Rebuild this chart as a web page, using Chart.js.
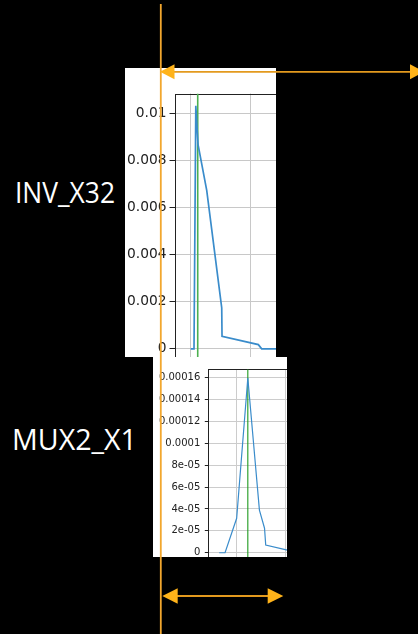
<!DOCTYPE html>
<html>
<head>
<meta charset="utf-8">
<script src="https://cdn.jsdelivr.net/npm/chart.js@4/dist/chart.umd.min.js"></script>
<style>
  html, body { margin: 0; padding: 0; background: #000; }
  body { width: 418px; height: 634px; position: relative; overflow: hidden; }
  .panel { position: absolute; background: #fff; overflow: hidden; }
  .panel canvas { position: absolute; left: 0; top: 0; }
  .lbl { position: absolute; color: #fff; font-family: "Open Sans", sans-serif; font-size: 28.5px; line-height: 1; white-space: nowrap; transform-origin: 0 0; }
  svg { position: absolute; left: 0; top: 0; }
</style>
</head>
<body>
<div class="lbl" id="lbl1" style="left:15px; top:178px;">INV_X32</div>
<div class="lbl" id="lbl2" style="left:11.5px; top:424.7px;">MUX2_X1</div>

<div class="panel" style="left:125px; top:68px; width:151px; height:289px;">
  <canvas id="c1" width="200" height="313"></canvas>
</div>
<div class="panel" style="left:153px; top:357px; width:134px; height:200px;">
  <canvas id="c2" width="180" height="225"></canvas>
</div>

<svg width="418" height="634">
  <line x1="160.8" y1="4" x2="160.8" y2="634" stroke="#F2A72E" stroke-width="1.8"/>
  <line x1="166" y1="71.8" x2="418" y2="71.8" stroke="#E39A1E" stroke-width="1.8"/>
  <polygon points="160,71.8 174.5,64.3 174.5,79.3" fill="#FFB31A"/>
  <polygon points="424,71.8 410,64.3 410,79.3" fill="#FFB31A"/>
  <line x1="168" y1="596" x2="278" y2="596" stroke="#E39A1E" stroke-width="1.8"/>
  <polygon points="162.3,596 177.7,588.2 177.7,603.8" fill="#FFB31A"/>
  <polygon points="283.3,596 267.7,588.2 267.7,603.8" fill="#FFB31A"/>
</svg>

<script>
// ---------- INV_X32 panel data ----------
const inv_x = [1.000, 1.055, 1.085, 1.122, 1.267, 1.517, 1.522, 2.127, 2.183, 3.32];
const inv_y = [0, 0, 0.01034, 0.0087, 0.00674, 0.00174, 0.00053, 0.00018, 0, 0];
const inv_marker = 1.117;
const inv_yTicks = [0, 0.002, 0.004, 0.006, 0.008, 0.01];
const inv_yLabels = ['0', '0.002', '0.004', '0.006', '0.008', '0.01'];
const inv_xGrid = [1, 2, 3];
const inv_yRange = [-0.000517, 0.01086];
const inv_xRange = [0.73, 3.238];

// ---------- MUX2_X1 panel data ----------
const mux_x = [0.645, 0.764, 1.000, 1.227, 1.463, 1.567, 1.591, 2.118, 2.158, 3.06];
const mux_y = [0, 0, 3.15e-5, 1.595e-4, 3.9e-5, 2.24e-5, 7.1e-6, 1.5e-6, 0, 0];
const mux_marker = 1.227;
const mux_yTicks = [0, 2e-5, 4e-5, 6e-5, 8e-5, 1e-4, 1.2e-4, 1.4e-4, 1.6e-4];
const mux_yLabels = ['0', '2e-05', '4e-05', '6e-05', '8e-05', '0.0001', '0.00012', '0.00014', '0.00016'];
const mux_xGrid = [1, 2, 3];
const mux_yRange = [-0.00000798, 0.0001675];
const mux_xRange = [0.423, 2.96];

// fit the side labels to the widths seen in the reference
[['lbl1', 100], ['lbl2', 125]].forEach(([id, w]) => {
  const el = document.getElementById(id);
  const r = el.getBoundingClientRect().width;
  if (r > 0) el.style.transform = 'scaleX(' + (w / r) + ')';
});

const framePlugin = {
  id: 'frame',
  beforeDatasetsDraw(chart) {
    const a = chart.chartArea, ctx = chart.ctx;
    ctx.save();
    ctx.strokeStyle = '#222';
    ctx.lineWidth = 1;
    ctx.strokeRect(Math.round(a.left) + 0.5, Math.round(a.top) + 0.5, a.right - a.left, a.bottom - a.top);
    ctx.restore();
  }
};

function makeChart(id, xs, ys, marker, yTicks, yLabels, xGrid, yRange, xRange, opt) {
  const pts = xs.map((x, i) => ({ x: x, y: ys[i] }));
  new Chart(document.getElementById(id), {
    type: 'line',
    data: {
      datasets: [
        { data: pts, borderColor: opt.blue, borderWidth: opt.lw, pointRadius: 0, tension: 0, fill: false },
        { data: [{ x: marker, y: yRange[0] }, { x: marker, y: yRange[1] }], borderColor: opt.green, borderWidth: opt.gw, pointRadius: 0, fill: false }
      ]
    },
    options: {
      responsive: false,
      animation: false,
      events: [],
      layout: { padding: { left: 0, top: opt.padTop, right: 0, bottom: 0 } },
      plugins: { legend: { display: false }, tooltip: { enabled: false } },
      scales: {
        x: {
          type: 'linear', min: xRange[0], max: xRange[1],
          afterBuildTicks: s => { s.ticks = xGrid.map(v => ({ value: v })); },
          afterFit: s => { s.height = opt.xH; },
          ticks: { display: false },
          grid: { color: opt.grid, lineWidth: 1, drawTicks: false },
          border: { display: false }
        },
        y: {
          type: 'linear', min: yRange[0], max: yRange[1],
          afterBuildTicks: s => { s.ticks = yTicks.map(v => ({ value: v })); },
          afterFit: s => { s.width = opt.yW; },
          ticks: {
            color: '#222', padding: opt.tickPad,
            font: { family: "'DejaVu Sans', sans-serif", size: opt.fs },
            callback: (v, i) => yLabels[i]
          },
          grid: { color: opt.grid, lineWidth: 1, drawTicks: true, tickLength: opt.tickLen, tickColor: '#222' },
          border: { display: false }
        }
      }
    },
    plugins: [framePlugin]
  });
}

makeChart('c1', inv_x, inv_y, inv_marker, inv_yTicks, inv_yLabels, inv_xGrid, inv_yRange, inv_xRange,
  { blue: '#3a8ccb', green: '#4cb050', lw: 1.7, gw: 1.6, padTop: 25.5, xH: 20, yW: 49.5, tickPad: 3, tickLen: 5, fs: 13.8, grid: '#c8c8c8' });
makeChart('c2', mux_x, mux_y, mux_marker, mux_yTicks, mux_yLabels, mux_xGrid, mux_yRange, mux_xRange,
  { blue: '#3a8ccb', green: '#1f9a1f', lw: 1.2, gw: 1.1, padTop: 12.3, xH: 20.5, yW: 55.3, tickPad: 4.5, tickLen: 3.5, fs: 10, grid: '#cccccc' });
</script>
</body>
</html>
